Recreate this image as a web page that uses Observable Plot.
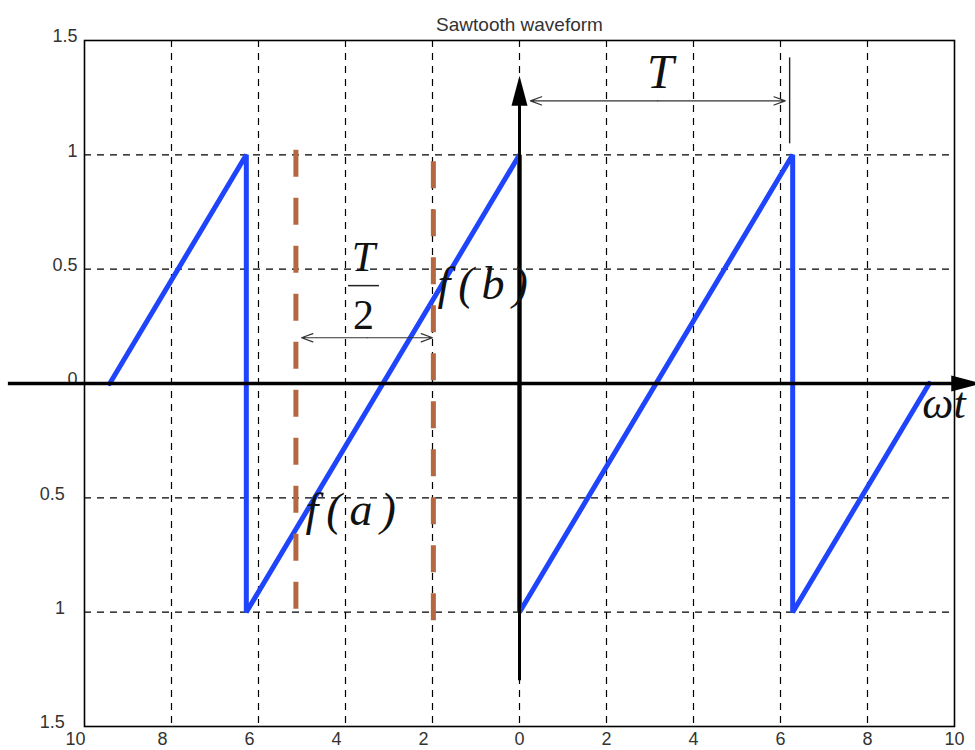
<!DOCTYPE html>
<html>
<head>
<meta charset="utf-8">
<script src="https://cdn.jsdelivr.net/npm/d3@7"></script>
<script src="https://cdn.jsdelivr.net/npm/@observablehq/plot@0.6"></script>
<style>
  html, body { margin: 0; padding: 0; background: white; }
  #chart .wide text { letter-spacing: 8px; }
</style>
</head>
<body>
<div id="chart"></div>
<script>
// ---- data ----
const titleText = "Sawtooth waveform";
const xTicks = [-10, -8, -6, -4, -2, 0, 2, 4, 6, 8, 10];
const yTicks = [-1.5, -1, -0.5, 0, 0.5, 1, 1.5];
const gridXs = [-8, -6, -4, -2, 0, 2, 4, 6, 8];
const gridYs = [-1, -0.5, 0.5, 1];

// sawtooth vertices (x in rad, y amplitude)
const sawX = [-9.42, -6.28, -6.28, 0, 0, 6.28, 6.28, 9.42];
const sawY = [0, 1, -1, 1, -1, 1, -1, 0];

// brown dashed markers a and b
const markX = [-5.14, -1.98];
const markTop = [1.02, 0.97];
const markBottom = [-1.0, -1.045];

// coordinate axes drawn as arrows
const axisXStart = -11.75, axisXEnd = 10.1, axisXHead = 10.27;
const axisYStart = -1.3, axisYEnd = 1.25, axisYHead = 1.28;

// dimension arrows: [x1, x2, y]
const periodArrow = [0.25, 6.11, 1.236];
const halfArrow = [-5.01, -2.0, 0.2];
const periodTickX = 6.21, periodTickY1 = 1.048, periodTickY2 = 1.424;
const fracBar = [-3.93, -3.22, 0.428];

// text annotations
const noteText = ["T", "T", "ωt"];
const noteX = [3.24, -3.586, 9.26];
const noteY = [1.293, 0.493, -0.153];
const noteSize = [48, 42, 44];
const noteAnchor = ["middle", "middle", "start"];
const fnText = ["f(b)", "f(a)"];
const fnX = [-1.885, -4.92];
const fnY = [0.371, -0.62];
const digitText = ["2"];
const digitX = [-3.586];
const digitY = [0.240];

// ---- build tables ----
const saw = sawX.map((x, i) => ({x, y: sawY[i]}));
const marks = markX.map((x, i) => ({x, y1: markTop[i], y2: markBottom[i]}));
const notes = noteText.map((t, i) => ({t, x: noteX[i], y: noteY[i], s: noteSize[i], a: noteAnchor[i]}));
const fns = fnText.map((t, i) => ({t, x: fnX[i], y: fnY[i]}));
const digits = digitText.map((t, i) => ({t, x: digitX[i], y: digitY[i]}));
function dbl([x1, x2, y]) {
  const m = (x1 + x2) / 2;
  return [{x1: m, x2: x1, y}, {x1: m, x2: x2, y}];
}
const arrows = [...dbl(periodArrow), ...dbl(halfArrow)];
const heads = [
  {x: 0, y: axisYHead, r: 0},
  {x: axisXHead, y: 0, r: 90}
];
const headSymbol = {
  draw(ctx) { ctx.moveTo(0, -15); ctx.lineTo(8, 15); ctx.lineTo(-8, 15); ctx.closePath(); }
};
const fmtX = d => d < 0 ? Math.abs(d) + "\u2003" : String(d);
const fmtY = d => d < 0 ? Math.abs(d) + "\u2002\u2009" : String(d);

const chart = Plot.plot({
  width: 975,
  height: 750,
  marginLeft: 84,
  marginRight: 21,
  marginTop: 40,
  marginBottom: 24,
  x: {domain: [-10, 10]},
  y: {domain: [-1.5, 1.5]},
  style: {fontFamily: "Liberation Sans, Arial, sans-serif", fontSize: "18px", color: "#333", background: "white", overflow: "visible"},
  marks: [
    Plot.gridX(gridXs, {stroke: "black", strokeOpacity: 1, strokeWidth: 1.2, strokeDasharray: "7,6"}),
    Plot.gridY(gridYs, {stroke: "black", strokeOpacity: 1, strokeWidth: 1.2, strokeDasharray: "7,6"}),
    Plot.frame({stroke: "black", strokeWidth: 1.6}),
    Plot.axisX(xTicks, {tickSize: 0, tickPadding: 6, tickFormat: fmtX, fontSize: 18, fill: "#333", label: null}),
    Plot.axisY(yTicks, {tickSize: 0, tickPadding: 7, tickFormat: fmtY, fontSize: 18, fill: "#333", dy: -4, label: null}),
    Plot.line(saw, {x: "x", y: "y", stroke: "#1f45fc", strokeWidth: 5, strokeLinejoin: "miter"}),
    Plot.ruleX(marks, {x: "x", y1: "y1", y2: "y2", stroke: "#b5683f", strokeWidth: 5, strokeDasharray: "27,21"}),
    Plot.ruleY([0], {x1: axisXStart, x2: axisXEnd, stroke: "black", strokeWidth: 3.5}),
    Plot.ruleX([0], {y1: axisYStart, y2: axisYEnd, stroke: "black", strokeWidth: 3}),
    Plot.dot(heads, {x: "x", y: "y", rotate: "r", symbol: headSymbol, r: 10, fill: "black", stroke: null}),
    Plot.arrow(arrows, {x1: "x1", x2: "x2", y1: "y", y2: "y", stroke: "#333", strokeWidth: 1.2, headLength: 15, headAngle: 40}),
    Plot.ruleX([periodTickX], {y1: periodTickY1, y2: periodTickY2, stroke: "#222", strokeWidth: 1.4}),
    Plot.ruleY([fracBar[2]], {x1: fracBar[0], x2: fracBar[1], stroke: "#222", strokeWidth: 1.5}),
    Plot.text(notes, {x: "x", y: "y", text: "t", fontSize: d => d.s, textAnchor: "middle", lineAnchor: "bottom", fontFamily: "Liberation Serif, serif", fontStyle: "italic", fill: "#111"}),
    Plot.text(fns, {x: "x", y: "y", text: "t", fontSize: 46, textAnchor: "start", lineAnchor: "bottom", fontFamily: "Liberation Serif, serif", fontStyle: "italic", fill: "#111", className: "wide"}),
    Plot.text(digits, {x: "x", y: "y", text: "t", fontSize: 42, textAnchor: "middle", lineAnchor: "bottom", fontFamily: "Liberation Serif, serif", fill: "#111"}),
    Plot.text([titleText], {frameAnchor: "top", dy: -23, fontSize: 19, fill: "#333", fontFamily: "Liberation Sans, Arial, sans-serif"})
  ]
});
document.getElementById("chart").appendChild(chart);
// ωt is start-anchored
d3.select(chart).selectAll("text").filter(function() { return this.textContent === "ωt"; }).attr("text-anchor", "start");
</script>
</body>
</html>
